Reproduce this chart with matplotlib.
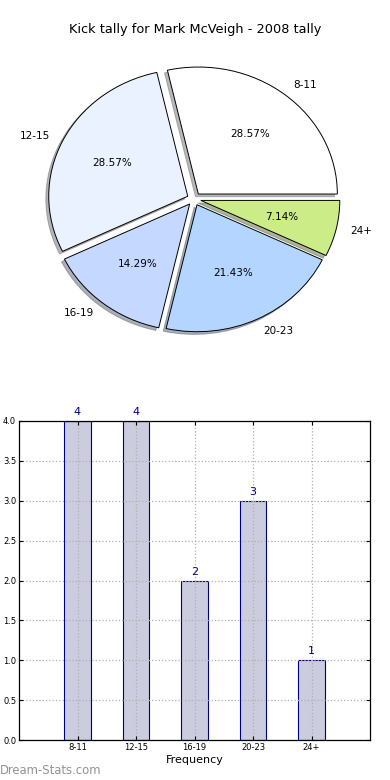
import matplotlib
matplotlib.use("Agg")
import matplotlib.pyplot as plt
import numpy as np

categories = ["8-11", "12-15", "16-19", "20-23", "24+"]
counts = [4, 4, 2, 3, 1]
pie_colors = ["#ffffff", "#ebf2ff", "#c5d8ff", "#b4d5ff", "#ccec88"]
title = "Kick tally for Mark McVeigh - 2008 tally"
yticks = [0.0, 0.5, 1.0, 1.5, 2.0, 2.5, 3.0, 3.5, 4.0]

W, H = 390, 780
fig = plt.figure(figsize=(W / 100, H / 100), dpi=100)

# Pie axes (slightly elliptical like the reference)
cx, cy, half = 194, 199, 185
rx_px, ry_px = 139, 127
ax1 = fig.add_axes([(cx - half) / W, (H - cy - half) / H, 2 * half / W, 2 * half / H])
wedges, texts, autotexts = ax1.pie(
    counts, labels=categories, colors=pie_colors, autopct="%.2f%%",
    explode=[0.05] * len(counts),
    shadow={"ox": -0.015, "oy": -0.015, "shade": 0.55}, startangle=0,
    labeldistance=1.1, pctdistance=0.6,
    wedgeprops=dict(edgecolor="black", linewidth=0.7),
    textprops=dict(fontsize=7.5))
ax1.set_aspect("auto")
ax1.set_xlim(-half / rx_px, half / rx_px)
ax1.set_ylim(-half / ry_px, half / ry_px)
ax1.axis("off")
fig.text(0.5, 1 - 30 / H, title, ha="center", va="center", fontsize=9.3)

# Bar axes
ax2 = fig.add_axes([19 / W, 40 / H, 351 / W, 319 / H])
x = np.arange(len(categories))
ax2.bar(x, counts, width=0.45, color="#ccccdf", edgecolor="#000080", linewidth=0.8, zorder=2)
for xi, c in zip(x, counts):
    ax2.text(xi, c + 0.05, str(c), ha="center", va="bottom", color="#000080", fontsize=8)
ax2.set_xlim(-1, 5)
ax2.set_ylim(0, 4)
ax2.set_xticks(x)
ax2.set_xticklabels(categories, fontsize=6)
ax2.set_yticks(yticks)
ax2.set_yticklabels([f"{v:.1f}" for v in yticks], fontsize=6)
ax2.tick_params(direction="in", length=3, right=True, top=True, colors="black",
                pad=2)
ax2.grid(True, linestyle=":", color="#b0b0b0", linewidth=0.9, zorder=3)
ax2.set_axisbelow(False)
ax2.set_xlabel("Frequency", fontsize=8, labelpad=2)
for s in ax2.spines.values():
    s.set_linewidth(0.9)
    s.set_zorder(4)

fig.text(0, 1 - 770 / H, "Dream-Stats.com", ha="left", va="center",
         fontsize=8.4, color="#939393")

fig.savefig("out.png", dpi=100)
